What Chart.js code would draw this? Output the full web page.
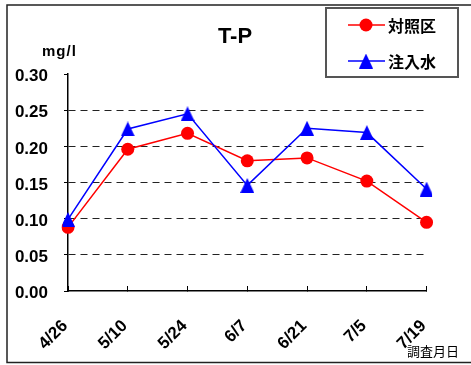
<!DOCTYPE html>
<html>
<head>
<meta charset="utf-8">
<script src="https://cdn.jsdelivr.net/npm/chart.js@4/dist/chart.umd.min.js"></script>
<style>
  html, body { margin: 0; padding: 0; background: #fff; }
  #wrap { position: absolute; left: 0; top: 0; width: 471px; height: 365px; }
</style>
</head>
<body>
<div id="wrap"><canvas id="tpChart" width="471" height="365"></canvas></div>
<script>
// Survey dates (x axis)
const dates = ['4/26', '5/10', '5/24', '6/7', '6/21', '7/5', '7/19'];
// T-P values (mg/l)
const controlValues = [0.088, 0.196, 0.218, 0.180, 0.184, 0.152, 0.095];
const injectedValues = [0.099, 0.224, 0.245, 0.146, 0.225, 0.219, 0.141];
// Y axis ticks
const yTicks = [0, 0.05, 0.10, 0.15, 0.20, 0.25, 0.30];

const seriesNames = ['対照区', '注入水'];
const chartTitle = 'T-P';
const yUnit = 'mg/l';
const xTitle = '調査月日';

const labelFont = '"Liberation Sans", Arial, sans-serif';
const cjkFont = '"Noto Sans CJK JP", sans-serif';

// Triangle marker like the spreadsheet one (a bit taller than wide)
function makeTriangle(w, h, color) {
    const c = document.createElement('canvas');
    c.width = w;
    c.height = h;
    const g = c.getContext('2d');
    g.fillStyle = color;
    g.beginPath();
    g.moveTo(w / 2, 0);
    g.lineTo(w, h);
    g.lineTo(0, h);
    g.closePath();
    g.fill();
    return c;
}
const triangleMarker = makeTriangle(14, 15, '#0000ff');

// Frame, title, unit label, axis title and legend
const decorations = {
    id: 'decorations',
    beforeDraw(chart) {
        const ctx = chart.ctx;
        ctx.save();
        ctx.fillStyle = '#fff';
        ctx.fillRect(0, 0, chart.width, chart.height);
        ctx.restore();
    },
    afterDraw(chart) {
        const ctx = chart.ctx;
        ctx.save();

        // outer frame (right edge runs off the picture)
        ctx.strokeStyle = '#222';
        ctx.lineWidth = 1.5;
        ctx.strokeRect(7, 5, 480, 357.5);

        // title
        ctx.fillStyle = '#000';
        ctx.font = 'bold 22px ' + labelFont;
        ctx.textAlign = 'center';
        ctx.textBaseline = 'alphabetic';
        ctx.fillText(chartTitle, 235, 43);

        // unit
        ctx.font = 'bold 15px ' + labelFont;
        ctx.textAlign = 'left';
        if ('letterSpacing' in ctx) ctx.letterSpacing = '1px';
        ctx.fillText(yUnit, 42, 56);
        if ('letterSpacing' in ctx) ctx.letterSpacing = '0px';

        // x axis title
        ctx.font = '13px ' + cjkFont;
        ctx.textAlign = 'right';
        ctx.fillText(xTitle, 459, 356);

        // legend box
        ctx.strokeStyle = '#555';
        ctx.lineWidth = 2;
        ctx.strokeRect(326, 8, 132, 69);

        const rows = [
            { y: 25, color: '#ff0000', name: seriesNames[0], marker: 'circle' },
            { y: 61, color: '#0000ff', name: seriesNames[1], marker: 'triangle' }
        ];
        rows.forEach(r => {
            ctx.strokeStyle = r.color;
            ctx.lineWidth = 1.5;
            ctx.beginPath();
            ctx.moveTo(348, r.y);
            ctx.lineTo(385, r.y);
            ctx.stroke();
            if (r.marker === 'circle') {
                ctx.fillStyle = r.color;
                ctx.beginPath();
                ctx.arc(366, r.y, 6.5, 0, Math.PI * 2);
                ctx.fill();
            } else {
                ctx.drawImage(triangleMarker, 366 - 7, r.y - 7.5);
            }
            ctx.fillStyle = '#000';
            ctx.font = 'bold 16px ' + cjkFont;
            ctx.textAlign = 'left';
            ctx.textBaseline = 'middle';
            ctx.fillText(r.name, 388, r.y + 1);
        });

        ctx.restore();
    }
};

const ctx = document.getElementById('tpChart').getContext('2d');
const tpChart = new Chart(ctx, {
    type: 'line',
    data: {
        labels: dates,
        datasets: [
            {
                label: seriesNames[1],
                data: injectedValues,
                borderColor: '#0000ff',
                backgroundColor: '#0000ff',
                borderWidth: 1.5,
                pointStyle: triangleMarker,
                tension: 0,
                order: 0
            },
            {
                label: seriesNames[0],
                data: controlValues,
                borderColor: '#ff0000',
                backgroundColor: '#ff0000',
                borderWidth: 1.5,
                pointStyle: 'circle',
                pointRadius: 6.5,
                pointBorderWidth: 0,
                pointBackgroundColor: '#ff0000',
                tension: 0,
                order: 1
            }
        ]
    },
    options: {
        responsive: false,
        animation: false,
        devicePixelRatio: 1,
        layout: {
            padding: { top: 74, right: 44, bottom: 0, left: 0 }
        },
        plugins: {
            legend: { display: false },
            title: { display: false },
            tooltip: { enabled: false }
        },
        scales: {
            x: {
                offset: false,
                afterFit(scale) { scale.height = 74; },
                grid: {
                    drawOnChartArea: false,
                    drawTicks: true,
                    tickLength: -5,
                    tickColor: '#000',
                    tickWidth: 1
                },
                border: { display: true, color: '#000', width: 1.5 },
                ticks: {
                    autoSkip: false,
                    maxRotation: 45,
                    minRotation: 45,
                    padding: 30,
                    labelOffset: -3,
                    color: '#000',
                    font: { family: labelFont, size: 17, weight: 'bold' }
                }
            },
            y: {
                min: 0,
                max: 0.3,
                afterFit(scale) { scale.width = 68; },
                afterBuildTicks(scale) {
                    scale.ticks = yTicks.map(v => ({ value: v }));
                },
                grid: {
                    color: c => (c.tick && (c.tick.value > 0.001 && c.tick.value < 0.299)) ? '#222' : 'rgba(0,0,0,0)',
                    lineWidth: 1,
                    drawTicks: true,
                    tickLength: 4,
                    tickColor: '#000',
                    tickWidth: 1,
                    tickBorderDash: []
                },
                border: { display: true, color: '#000', width: 1.5, dash: [7, 5] },
                ticks: {
                    padding: 16,
                    labelOffset: 2.5,
                    color: '#000',
                    font: { family: labelFont, size: 17, weight: 'bold' },
                    callback: v => Number(v).toFixed(2)
                }
            }
        }
    },
    plugins: [decorations]
});
</script>
</body>
</html>
